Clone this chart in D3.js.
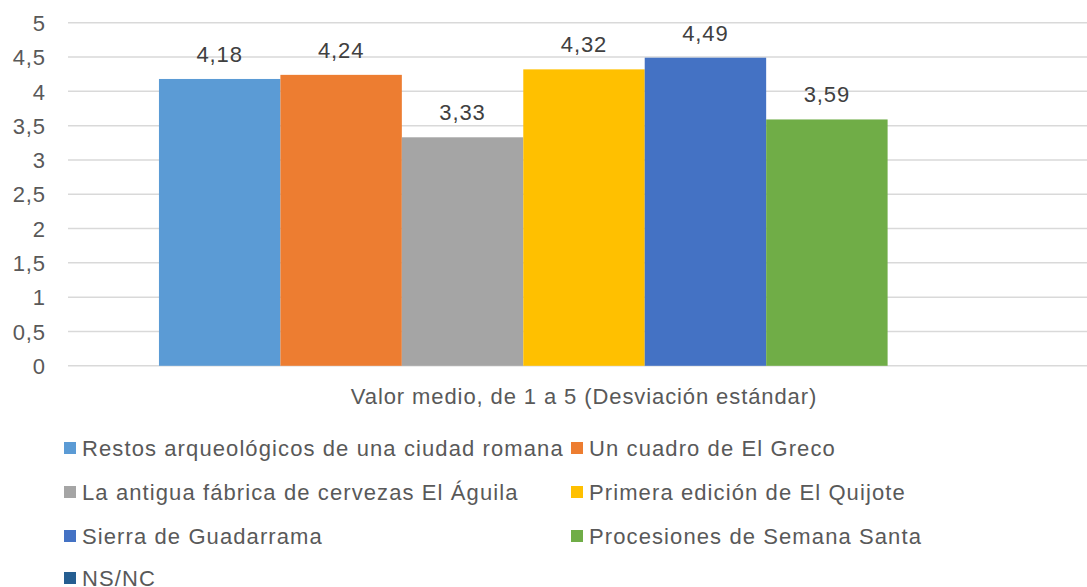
<!DOCTYPE html>
<html><head><meta charset="utf-8">
<script src="https://cdn.jsdelivr.net/npm/d3@7"></script>
<style>body{margin:0;background:#fff;}svg{display:block;font-family:"Liberation Sans",Arial,sans-serif;}</style>
</head><body><svg id="c" width="1087" height="587"></svg>
<script>
const categories = ["Valor medio, de 1 a 5 (Desviación estándar)"];
const seriesNames = ["Restos arqueológicos de una ciudad romana","Un cuadro de El Greco","La antigua fábrica de cervezas El Águila","Primera edición de El Quijote","Sierra de Guadarrama","Procesiones de Semana Santa","NS/NC"];
const seriesValues = [4.18, 4.24, 3.33, 4.32, 4.49, 3.59, null];
const valueLabels = ["4,18","4,24","3,33","4,32","4,49","3,59",""];
const seriesColors = ["#5B9BD5","#ED7D31","#A5A5A5","#FFC000","#4472C4","#70AD47","#255E91"];
const yTicks = [0,0.5,1,1.5,2,2.5,3,3.5,4,4.5,5];
const yTickLabels = ["0","0,5","1","1,5","2","2,5","3","3,5","4","4,5","5"];

const FS = 22, LS = "0.9px", LLS = "1.1px";
const svg = d3.select("#c");
const plotL = 68, plotR = 1100, plotT = 22.7, plotB = 365.8;
const y = d3.scaleLinear().domain([0,5]).range([plotB, plotT]);
const x0 = d3.scaleBand().domain(categories).range([plotL, plotR]).paddingInner(0).paddingOuter(0.107);
const x1 = d3.scaleBand().domain(seriesNames).range([0, x0.bandwidth()]).padding(0);

// gridlines
svg.append("g").selectAll("line").data(yTicks).join("line")
  .attr("x1", plotL).attr("x2", 1087)
  .attr("y1", d => y(d)).attr("y2", d => y(d))
  .attr("stroke", "#D9D9D9").attr("stroke-width", 1.5);

// y axis labels
const yAxis = d3.axisLeft(y).tickValues(yTicks).tickFormat((d,i) => yTickLabels[i]).tickSize(0).tickPadding(0);
const ya = svg.append("g").attr("transform", `translate(46,0)`).call(yAxis);
ya.select(".domain").remove();
ya.selectAll("text").attr("font-size", FS).attr("letter-spacing", LS).attr("fill", "#595959").attr("font-family", "Liberation Sans, Arial, sans-serif").attr("dy", "0.35em");

// bars
const g = svg.append("g").attr("transform", `translate(${x0(categories[0])},0)`);
const data = seriesNames.map((n,i)=>({n, v: seriesValues[i], c: seriesColors[i], l: valueLabels[i]})).filter(d => d.v != null);
g.selectAll("rect").data(data)
  .join("rect")
  .attr("x", d => x1(d.n)).attr("width", x1.bandwidth())
  .attr("y", d => y(d.v)).attr("height", d => y(0) - y(d.v))
  .attr("fill", d => d.c);
g.selectAll("text").data(data)
  .join("text")
  .attr("x", d => x1(d.n) + x1.bandwidth()/2).attr("y", d => y(d.v) - 17)
  .attr("text-anchor", "middle").attr("font-size", FS).attr("letter-spacing", LS).attr("fill", "#404040")
  .text(d => d.l);

// category label
const xAxis = d3.axisBottom(x0).tickSize(0).tickPadding(0);
const xa = svg.append("g").attr("transform", `translate(0,${plotB})`).call(xAxis);
xa.select(".domain").remove();
xa.selectAll("text").attr("font-size", FS).attr("letter-spacing", LS).attr("fill", "#595959").attr("font-family", "Liberation Sans, Arial, sans-serif").attr("dy", "0").attr("y", 38)
  .attr("x", 584 - x0(categories[0]) - x0.bandwidth()/2);

// legend
const legX = [64, 571], legY = [448, 492, 536, 578];
const leg = svg.append("g").selectAll("g").data(seriesNames).join("g")
  .attr("transform", (d,i) => `translate(${legX[i%2]},${legY[Math.floor(i/2)]})`);
leg.append("rect").attr("x", 0).attr("y", -6).attr("width", 12).attr("height", 12).attr("fill", (d,i) => seriesColors[i]);
leg.append("text").attr("x", 18).attr("y", 0).attr("dy", "0.35em").attr("font-size", FS).attr("letter-spacing", LLS).attr("fill", "#595959").text(d => d);
</script></body></html>
